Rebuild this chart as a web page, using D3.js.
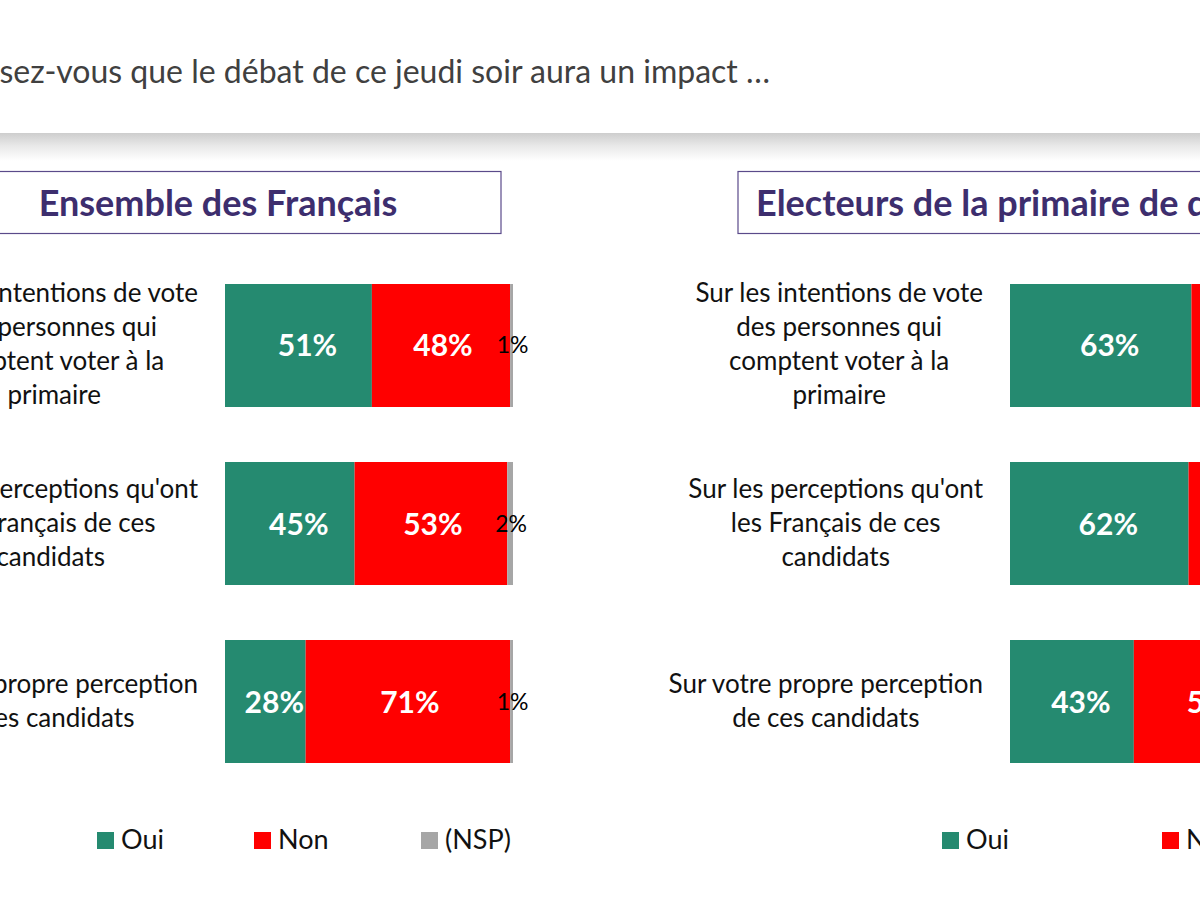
<!DOCTYPE html>
<html>
<head>
<meta charset="utf-8">
<title>Impact du débat</title>
<script src="https://d3js.org/d3.v7.min.js"></script>
<style>
  body { margin: 0; background: #fff; }
  svg { display: block; font-family: Lato, 'Open Sans', sans-serif; }
  .question { fill: #404040; font-size: 32px; }
  .panel-title { fill: #3d2e6e; font-size: 36px; font-weight: bold; }
  .row-label { fill: #111; font-size: 26px; }
  .val { font-size: 30px; font-weight: bold; fill: #fff; }
  .val-small { font-size: 23px; fill: #000; }
  .legend text { font-size: 27px; fill: #111; }
</style>
</head>
<body>
<svg width="1200" height="900"></svg>
<script>
// ---- data ----
const question = "Pensez-vous que le débat de ce jeudi soir aura un impact …";
const panelTitles = ["Ensemble des Français", "Electeurs de la primaire de droite"];
const rows = [
  ["Sur les intentions de vote", "des personnes qui", "comptent voter à la", "primaire"],
  ["Sur les perceptions qu'ont", "les Français de ces", "candidats"],
  ["Sur votre propre perception", "de ces candidats"]
];
const categories = ["Oui", "Non", "(NSP)"];
const colors = ["#258a70", "#ff0000", "#a6a6a6"];

const francaisOui = [51, 45, 28];
const francaisNon = [48, 53, 71];
const francaisNsp = [1, 2, 1];

const electeursOui = [63, 62, 43];
const electeursNon = [36, 37, 56];
const electeursNsp = [1, 1, 1];

const svg = d3.select("svg");

// header band with soft shadow below
const defs = svg.append("defs");
const grad = defs.append("linearGradient").attr("id", "shade")
    .attr("x1", 0).attr("y1", 0).attr("x2", 0).attr("y2", 1);
grad.append("stop").attr("offset", "0%").attr("stop-color", "#cdcdcd");
grad.append("stop").attr("offset", "45%").attr("stop-color", "#e8e8e8");
grad.append("stop").attr("offset", "100%").attr("stop-color", "#ffffff");

svg.append("rect").attr("x", 0).attr("y", 133).attr("width", 1200).attr("height", 28)
    .attr("fill", "url(#shade)");
svg.append("rect").attr("x", 0).attr("y", 0).attr("width", 1200).attr("height", 133)
    .attr("fill", "#fff");

// question text, cut on the left like the slide crop
svg.append("text").attr("class", "question")
    .attr("x", 770).attr("y", 83)
    .attr("text-anchor", "end")
    .text(question);

// y scale shared by both panels
const y = d3.scaleBand()
    .domain(d3.range(rows.length))
    .range([284, 763])
    .paddingInner(0.309)
    .paddingOuter(0);

const panels = [
  { title: panelTitles[0], oui: francaisOui, non: francaisNon, nsp: francaisNsp,
    x0: 225, box: [-65, 501], titleX: 218, titleAnchor: "middle",
    legendX: [97, 254, 421] },
  { title: panelTitles[1], oui: electeursOui, non: electeursNon, nsp: electeursNsp,
    x0: 1010, box: [738, 1400], titleX: 756, titleAnchor: "start",
    legendX: [942, 1162, 1340] }
];

panels.forEach(p => {
  const x = d3.scaleLinear().domain([0, 100]).range([p.x0, p.x0 + 288]);
  const g = svg.append("g");

  // title box
  g.append("rect")
      .attr("x", p.box[0]).attr("y", 171.5)
      .attr("width", p.box[1] - p.box[0]).attr("height", 62)
      .attr("fill", "#fff").attr("stroke", "#5a4a8a").attr("stroke-width", 1.2);
  g.append("text").attr("class", "panel-title")
      .attr("x", p.titleX).attr("y", 216)
      .attr("text-anchor", p.titleAnchor)
      .text(p.title);

  // stacked data
  const data = rows.map((r, i) => ({ i, Oui: p.oui[i], Non: p.non[i], "(NSP)": p.nsp[i] }));
  const stacked = d3.stack().keys(categories)(data);

  const layer = g.selectAll("g.layer").data(stacked).enter().append("g")
      .attr("class", "layer")
      .attr("fill", (d, k) => colors[k]);

  layer.selectAll("rect").data(d => d).enter().append("rect")
      .attr("x", d => x(d[0]))
      .attr("y", d => y(d.data.i))
      .attr("width", d => x(d[1]) - x(d[0]))
      .attr("height", y.bandwidth());

  // value labels
  stacked.forEach((s, k) => {
    g.selectAll(null).data(s).enter().append("text")
        .attr("class", k === 2 ? "val-small" : "val")
        .attr("x", d => (x(d[0]) + x(d[1])) / 2 + (k === 0 ? 9 : k === 1 ? 2 : 1))
        .attr("y", d => y(d.data.i) + y.bandwidth() / 2 + (k === 2 ? 8 : 11))
        .attr("text-anchor", "middle")
        .text(d => (d[1] - d[0]) + "%");
  });

  // row labels: block right-aligned next to the bar, lines centred within it
  const lh = 34;
  const rightEdge = x(0) - 27;
  rows.forEach((lines, i) => {
    const cy = y(i) + y.bandwidth() / 2;
    const t = g.append("text").attr("class", "row-label").attr("text-anchor", "middle");
    const spans = lines.map((ln, j) => t.append("tspan")
        .attr("y", cy + (j - (lines.length - 1) / 2) * lh + 8)
        .text(ln));
    const maxW = d3.max(spans, s => s.node().getComputedTextLength());
    spans.forEach(s => s.attr("x", rightEdge - maxW / 2));
  });

  // legend
  const lg = g.append("g").attr("class", "legend");
  categories.forEach((c, k) => {
    const item = lg.append("g").attr("transform", `translate(${p.legendX[k]},832)`);
    item.append("rect").attr("width", 17).attr("height", 17).attr("fill", colors[k]);
    item.append("text").attr("x", 24).attr("y", 17).text(c);
  });
});
</script>
</body>
</html>
